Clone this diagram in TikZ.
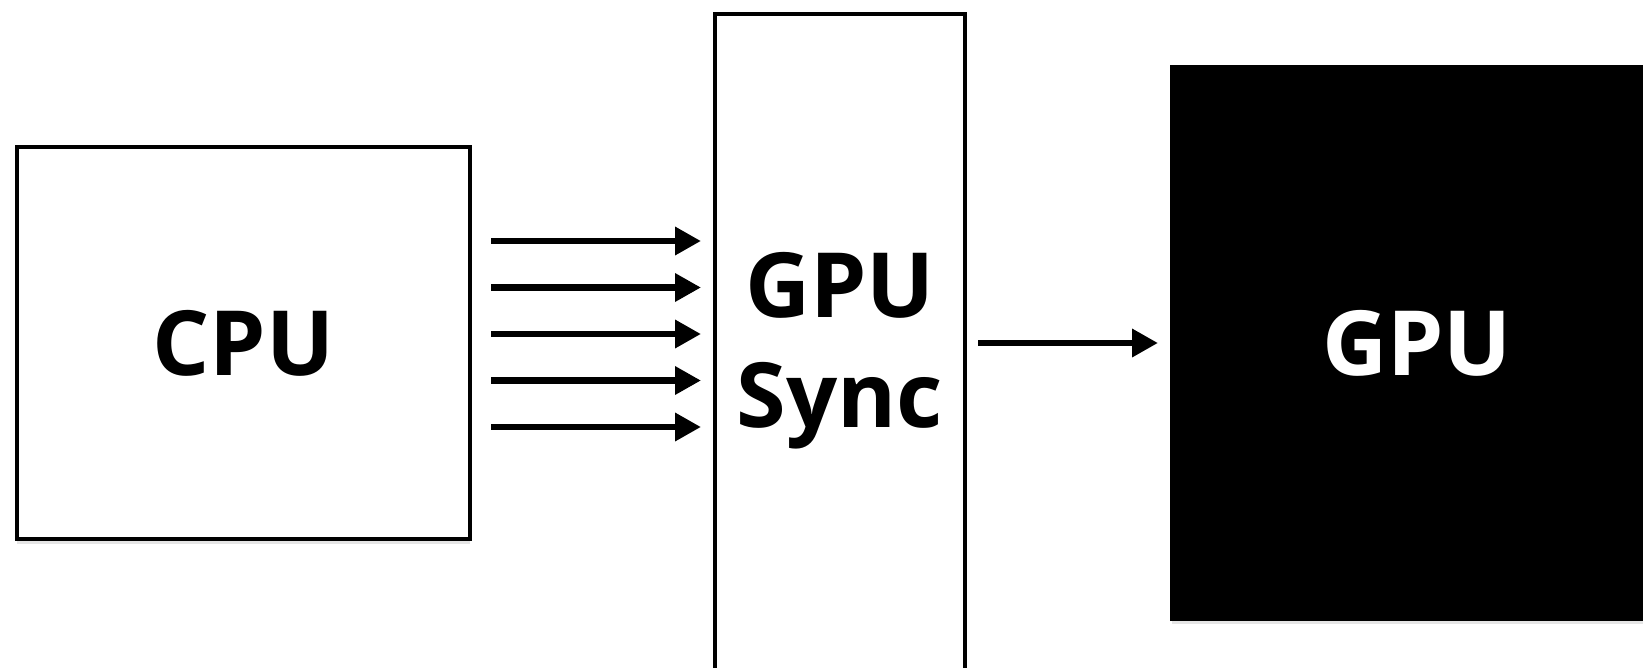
\documentclass[tikz,border=0pt]{standalone}
\usepackage{fontspec}
\setmainfont{Open Sans}
\usetikzlibrary{arrows.meta,positioning,shadows}

\tikzset{
  blocco/.style={draw, line width=3.5pt, outer sep=0pt, fill=white,
    drop shadow={shadow xshift=0pt, shadow yshift=-5pt, fill=black!20}},
  freccia/.style={line width=6.5pt, -{Triangle[length=26pt, width=27pt]}},
}

\begin{document}
\begin{tikzpicture}[x=1pt, y=-1pt, font=\fontsize{90}{110}\selectfont\bfseries]
\useasboundingbox (0,0) rectangle (1643,667);
\clip (0,0) rectangle (1643,667);
% Blocchi
\node[blocco, minimum width=453pt, minimum height=392pt] (cpu) at (243.5,343) {CPU};
\node[blocco, minimum width=250pt, minimum height=674pt, align=center] (sync) at (840,351) {GPU\\Sync};
\node[blocco, fill=black, text=white, minimum width=490pt, minimum height=552pt] (gpu) at (1417,343) {GPU};
% Comandi dalla CPU
\foreach \dy in {102,55.5,9,-37.5,-84}{
  \path ([yshift=\dy pt]cpu.east) coordinate (da);
  \draw[freccia, shorten <=21pt, shorten >=14pt] (da) -- (da -| sync.west);
}
% Verso la GPU
\draw[freccia, shorten <=13pt, shorten >=14pt] (sync.east |- gpu.west) -- (gpu.west);
\end{tikzpicture}
\end{document}
